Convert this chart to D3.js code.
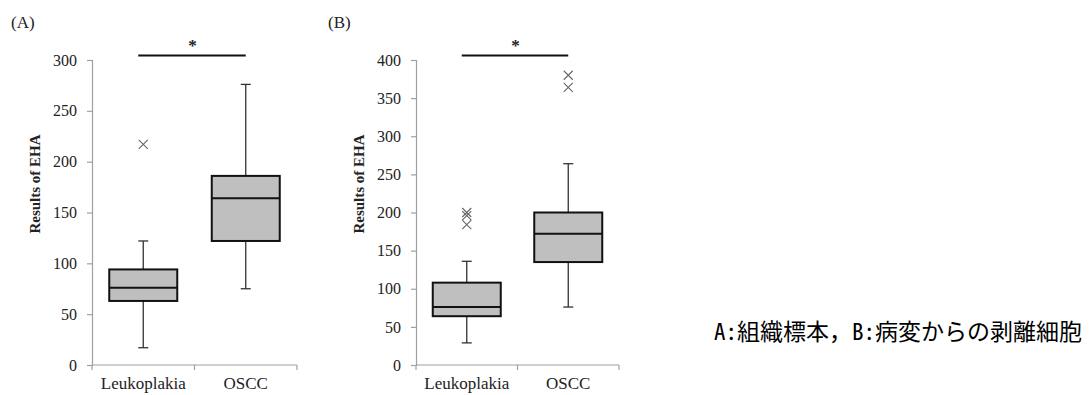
<!DOCTYPE html>
<html lang="ja">
<head>
<meta charset="UTF-8">
<title>EHA boxplot</title>
<script src="https://d3js.org/d3.v7.min.js"></script>
<style>
  body { margin: 0; background: #fff; }
</style>
</head>
<body>
<script>
  // data
  const categories = ["Leukoplakia", "OSCC"];
  // [min whisker, Q1, median, Q3, max whisker]
  const statsA = [[17, 63, 76, 94, 122], [75, 122, 164, 186, 276]];
  const outliersA = [[217], []];
  const ticksA = [0, 50, 100, 150, 200, 250, 300];
  const statsB = [[29, 64, 76, 108, 136], [76, 135, 172, 200, 264]];
  const outliersB = [[200, 196, 184], [380, 364]];
  const ticksB = [0, 50, 100, 150, 200, 250, 300, 350, 400];
  const caption = "A:組織標本，B:病変からの剥離細胞";

  const W = 1091, H = 395;
  const serif = "'Liberation Serif', 'DejaVu Serif', serif";
  const svg = d3.select("body").append("svg").attr("width", W).attr("height", H);

  function panel(opts) {
    const g = svg.append("g");
    const top = 60, bottom = 365;
    const y = d3.scaleLinear().domain([0, opts.max]).range([bottom, top]);
    const x = d3.scaleBand().domain(categories).range([opts.left, opts.left + opts.width]);

    // y axis
    const ya = g.append("g").attr("transform", `translate(${opts.left},0)`)
      .call(d3.axisLeft(y).tickValues(opts.ticks).tickSize(5).tickPadding(10));
    ya.selectAll("line,path").attr("stroke", "#a0a0a0").attr("stroke-width", 1.2);
    ya.selectAll("text").style("font-family", serif).style("font-size", "16px").style("fill", "#222");

    // x axis with ticks at band edges
    const xa = g.append("g").attr("transform", `translate(0,${bottom})`);
    xa.append("line").attr("x1", opts.left).attr("x2", opts.left + opts.width)
      .attr("stroke", "#a0a0a0").attr("stroke-width", 1.2);
    const edges = categories.map(c => x(c)).concat([x(categories[1]) + x.bandwidth()]);
    xa.selectAll(".xt").data(edges).join("line")
      .attr("x1", d => d).attr("x2", d => d).attr("y1", 0).attr("y2", 5)
      .attr("stroke", "#a0a0a0").attr("stroke-width", 1.2);
    xa.selectAll(".xl").data(categories).join("text")
      .attr("x", d => x(d) + x.bandwidth() / 2).attr("y", 24)
      .attr("text-anchor", "middle")
      .style("font-family", serif).style("font-size", "17px").style("fill", "#222")
      .text(d => d);

    // axis title
    g.append("text")
      .attr("transform", `translate(${opts.left - 52},184) rotate(-90)`)
      .attr("text-anchor", "middle")
      .style("font-family", serif).style("font-size", "15px").style("font-weight", "bold").style("fill", "#222")
      .text("Results of EHA");

    // panel letter
    g.append("text").attr("x", opts.letterX).attr("y", 28)
      .style("font-family", serif).style("font-size", "17px").style("fill", "#222")
      .text(opts.letter);

    const bw = 68, cap = 10;
    categories.forEach((c, i) => {
      const s = opts.stats[i];
      const cx = x(c) + x.bandwidth() / 2;
      const b = g.append("g");
      // whisker
      b.append("line").attr("x1", cx).attr("x2", cx).attr("y1", y(s[0])).attr("y2", y(s[4]))
        .attr("stroke", "#333").attr("stroke-width", 1.3);
      [s[0], s[4]].forEach(v => b.append("line")
        .attr("x1", cx - cap / 2).attr("x2", cx + cap / 2).attr("y1", y(v)).attr("y2", y(v))
        .attr("stroke", "#333").attr("stroke-width", 1.3));
      // box
      b.append("rect").attr("x", cx - bw / 2).attr("width", bw)
        .attr("y", y(s[3])).attr("height", y(s[1]) - y(s[3]))
        .attr("fill", "#bfbfbf").attr("stroke", "#111").attr("stroke-width", 2);
      b.append("line").attr("x1", cx - bw / 2).attr("x2", cx + bw / 2)
        .attr("y1", y(s[2])).attr("y2", y(s[2])).attr("stroke", "#111").attr("stroke-width", 2);
      // outliers
      opts.outliers[i].forEach(v => {
        const r = 4.5;
        b.append("path")
          .attr("d", `M${cx - r},${y(v) - r}L${cx + r},${y(v) + r}M${cx - r},${y(v) + r}L${cx + r},${y(v) - r}`)
          .attr("stroke", "#666").attr("stroke-width", 1.1).attr("fill", "none");
      });
    });

    // significance bar
    const x1 = x(categories[0]) + x.bandwidth() / 2, x2 = x(categories[1]) + x.bandwidth() / 2;
    g.append("line").attr("x1", x1 - 5).attr("x2", x2).attr("y1", 55.5).attr("y2", 55.5)
      .attr("stroke", "#111").attr("stroke-width", 2);
    g.append("text").attr("x", (x1 + x2) / 2 - 2).attr("y", 51).attr("text-anchor", "middle")
      .style("font-family", serif).style("font-size", "17px").style("font-weight", "bold").style("fill", "#222")
      .text("*");
  }

  panel({ left: 92, width: 205, max: 300, ticks: ticksA, stats: statsA, outliers: outliersA, letter: "(A)", letterX: 11 });
  panel({ left: 416, width: 203, max: 400, ticks: ticksB, stats: statsB, outliers: outliersB, letter: "(B)", letterX: 328 });

  svg.append("text").attr("x", 1082).attr("y", 340).attr("text-anchor", "end")
    .style("font-family", "'Noto Sans Mono CJK JP', 'Noto Sans CJK JP', sans-serif")
    .style("font-size", "23px").style("fill", "#000").text(caption);
</script>
</body>
</html>
